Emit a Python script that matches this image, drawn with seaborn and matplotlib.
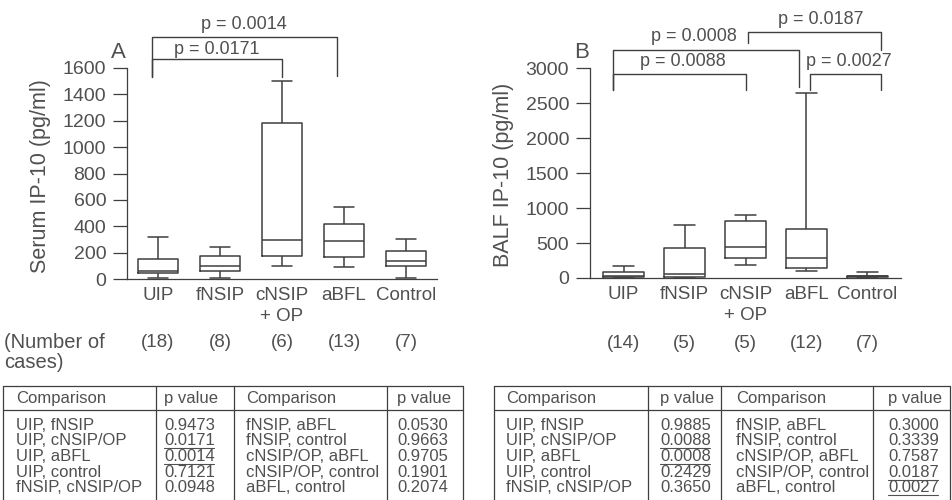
import pandas as pd
import matplotlib
matplotlib.use("Agg")
import matplotlib.pyplot as plt
import seaborn as sns

groups = ["UIP", "fNSIP", "cNSIP\n+ OP", "aBFL", "Control"]

# five-number summaries: min, q1, median, q3, max
serum_min = [5, 5, 100, 90, 10]
serum_q1 = [45, 60, 175, 170, 95]
serum_med = [60, 95, 295, 290, 140]
serum_q3 = [150, 175, 1180, 415, 210]
serum_max = [320, 245, 1500, 545, 300]
serum_n = [18, 8, 6, 13, 7]

balf_min = [0, 0, 190, 100, 0]
balf_q1 = [10, 10, 280, 145, 10]
balf_med = [30, 55, 440, 290, 25]
balf_q3 = [90, 430, 810, 700, 35]
balf_max = [170, 760, 900, 2650, 80]
balf_n = [14, 5, 5, 12, 7]

comp_left = ["UIP, fNSIP", "UIP, cNSIP/OP", "UIP, aBFL", "UIP, control", "fNSIP, cNSIP/OP"]
comp_right = ["fNSIP, aBFL", "fNSIP, control", "cNSIP/OP, aBFL", "cNSIP/OP, control", "aBFL, control"]
serum_p_left = ["0.9473", "0.0171", "0.0014", "0.7121", "0.0948"]
serum_p_right = ["0.0530", "0.9663", "0.9705", "0.1901", "0.2074"]
balf_p_left = ["0.9885", "0.0088", "0.0008", "0.2429", "0.3650"]
balf_p_right = ["0.3000", "0.3339", "0.7587", "0.0187", "0.0027"]

TXT = "#505050"
LINE = "#3f3f3f"

sns.set_style("ticks")
plt.rcParams["font.family"] = ["Liberation Sans", "DejaVu Sans"]
plt.rcParams["text.color"] = TXT
plt.rcParams["axes.labelcolor"] = TXT
plt.rcParams["xtick.color"] = TXT
plt.rcParams["ytick.color"] = TXT


def long_form(mins, q1s, meds, q3s, maxs):
    rows = []
    for g, vals in zip(groups, zip(mins, q1s, meds, q3s, maxs)):
        for v in vals:
            rows.append((g, v))
    return pd.DataFrame(rows, columns=["group", "value"])


fig = plt.figure(figsize=(9.52, 5), dpi=100)

# overlay in pixel coordinates for the tables and loose text
ov = fig.add_axes([0, 0, 1, 1])
ov.set_xlim(0, 952)
ov.set_ylim(500, 0)
ov.axis("off")

axA = fig.add_axes([127 / 952, 1 - 279 / 500, 310 / 952, 211 / 500])
axB = fig.add_axes([590 / 952, 1 - 278 / 500, 311 / 952, 210 / 500])


def draw_panel(ax, df, ymax, yticks, ylabel, xlim):
    sns.boxplot(data=df, x="group", y="value", order=groups, whis=(0, 100),
                fill=False, color=LINE, linewidth=1.1, width=0.66,
                showfliers=False, ax=ax)
    ax.set_xlim(*xlim)
    ax.set_ylim(0, ymax)
    ax.set_yticks(yticks)
    ax.set_xlabel("")
    ax.set_ylabel(ylabel, fontsize=15.5)
    ax.yaxis.set_label_coords(-0.245, 0.49)
    ax.tick_params(axis="y", length=10, width=0.9, pad=5, labelsize=14, color=LINE)
    ax.tick_params(axis="x", length=0, pad=6, labelsize=13.5)
    for lab in ax.get_xticklabels():
        lab.set_linespacing(1.3)
    sns.despine(ax=ax)
    for s in ["left", "bottom"]:
        ax.spines[s].set_color(LINE)
        ax.spines[s].set_linewidth(0.9)
    ax.patch.set_alpha(0)


def bracket(ax, x1, x2, y, b1, b2, label, tx, ty):
    ax.plot([x1, x1, x2, x2], [b1, y, y, b2], color=LINE, lw=1.0, clip_on=False)
    ax.text(tx, ty, label, ha="center", va="center", fontsize=13, color=TXT)


serum_df = long_form(serum_min, serum_q1, serum_med, serum_q3, serum_max)
balf_df = long_form(balf_min, balf_q1, balf_med, balf_q3, balf_max)

draw_panel(axA, serum_df, 1600, range(0, 1601, 200), "Serum IP-10 (pg/ml)", (-0.5, 4.5))
draw_panel(axB, balf_df, 3000, range(0, 3001, 500), "BALF IP-10 (pg/ml)", (-0.55, 4.55))

bracket(axA, -0.1, 2.0, 1667, 1530, 1530, "p = 0.0171", 0.94, 1742)
bracket(axA, -0.1, 2.88, 1833, 1530, 1538, "p = 0.0014", 1.39, 1932)

bracket(axB, -0.18, 2.0, 2914, 2686, 2686, "p = 0.0088", 0.97, 3100)
bracket(axB, -0.18, 2.88, 3257, 2686, 2729, "p = 0.0008", 1.15, 3443)
bracket(axB, 2.04, 4.23, 3514, 3357, 3257, "p = 0.0187", 3.23, 3700)
bracket(axB, 3.06, 4.23, 2914, 2686, 2686, "p = 0.0027", 3.7, 3086)

# number of cases under each group
for ax, counts, yy in [(axA, serum_n, -0.303), (axB, balf_n, -0.31)]:
    for i, n in enumerate(counts):
        ax.text(i, yy, f"({n})", transform=ax.get_xaxis_transform(),
                ha="center", va="center", fontsize=13.5, color=TXT)

ov.text(4, 343, "(Number of", ha="left", va="center", fontsize=14.5)
ov.text(4, 362, "cases)", ha="left", va="center", fontsize=14.5)
ov.text(118, 53, "A", ha="center", va="center", fontsize=16)
ov.text(582, 53, "B", ha="center", va="center", fontsize=16)


def draw_table(xl, xt, p_left, p_right):
    top, sep, bottom = 386, 410, 502
    ov.plot([xl[0], xl[-1]], [top, top], color=LINE, lw=0.9)
    ov.plot([xl[0], xl[-1]], [sep, sep], color=LINE, lw=0.9)
    for x in xl:
        ov.plot([x, x], [top, bottom], color=LINE, lw=0.9, clip_on=False)
    for x, h in zip(xt, ["Comparison", "p value", "Comparison", "p value"]):
        ov.text(x, 398, h, ha="left", va="center", fontsize=12)
    for i in range(5):
        y = 425 + i * 15.7
        cells = [comp_left[i], p_left[i], comp_right[i], p_right[i]]
        for j, (x, c) in enumerate(zip(xt, cells)):
            ov.text(x, y, c, ha="left", va="center", fontsize=12)
            if j in (1, 3) and float(c) < 0.05:
                ov.plot([x, x + 50], [y + 7.5, y + 7.5], color=TXT, lw=0.8)


draw_table([3, 156, 234, 387, 463], [16, 164, 246, 397], serum_p_left, serum_p_right)
draw_table([494, 648, 721, 873, 950], [506, 660, 736, 888], balf_p_left, balf_p_right)

fig.savefig("out.png", dpi=100)
